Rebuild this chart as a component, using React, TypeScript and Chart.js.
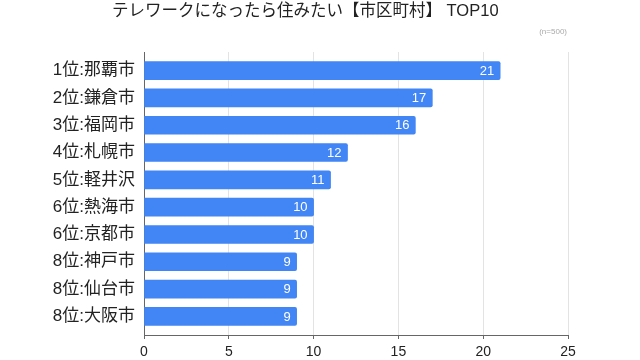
import React, { useEffect, useRef } from "react";
import { Chart, registerables } from "chart.js";

Chart.register(...registerables);

const titleText = "テレワークになったら住みたい【市区町村】 TOP10";
const noteText = "(n=500)";
const categories = [
  "1位:那覇市",
  "2位:鎌倉市",
  "3位:福岡市",
  "4位:札幌市",
  "5位:軽井沢",
  "6位:熱海市",
  "6位:京都市",
  "8位:神戸市",
  "8位:仙台市",
  "8位:大阪市",
];
const values = [21, 17, 16, 12, 11, 10, 10, 9, 9, 9];
const xTicks = [0, 5, 10, 15, 20, 25];

const FONT = '"Liberation Sans", Arial, "Noto Sans CJK JP", sans-serif';

const overlayPlugin = {
  id: "overlay",
  afterDatasetsDraw(chart: any) {
    const ctx = chart.ctx;
    const meta = chart.getDatasetMeta(0);
    ctx.save();
    ctx.fillStyle = "#ffffff";
    ctx.font = `13px ${FONT}`;
    ctx.textAlign = "right";
    ctx.textBaseline = "middle";
    meta.data.forEach((bar: any, i: number) => {
      ctx.fillText(String(values[i]), bar.x - 6, bar.y + 0.5);
    });
    ctx.restore();
  },
  afterDraw(chart: any) {
    const ctx = chart.ctx;
    ctx.save();
    ctx.fillStyle = "#222222";
    ctx.font = `16.5px ${FONT}`;
    ctx.textAlign = "left";
    ctx.textBaseline = "middle";
    ctx.fillText(titleText, 112, 11);
    ctx.fillStyle = "#aaaaaa";
    ctx.font = `8px ${FONT}`;
    ctx.textAlign = "right";
    ctx.fillText(noteText, 567, 32);
    ctx.restore();
  },
};

export default function App() {
  const ref = useRef<HTMLCanvasElement | null>(null);
  useEffect(() => {
    if (!ref.current) return;
    const chart = new Chart(ref.current, {
      type: "bar",
      data: {
        datasets: [
          {
            data: values.map((v, i) => ({ x: v, y: i })) as any,
            backgroundColor: "#4285f4",
            borderRadius: 2,
            barThickness: 18,
          },
        ],
      },
      options: {
        indexAxis: "y",
        responsive: false,
        animation: false,
        devicePixelRatio: 1,
        layout: { padding: { top: 52, right: 72, left: 0, bottom: 0 } },
        plugins: {
          legend: { display: false },
          tooltip: { enabled: false },
          title: { display: false },
        },
        scales: {
          x: {
            type: "linear",
            min: 0,
            max: 25,
            offset: false,
            afterBuildTicks: (s: any) => {
              s.ticks = xTicks.map((v) => ({ value: v }));
            },
            afterFit: (s: any) => {
              s.height = 25;
            },
            grid: {
              color: "#e3e3e3",
              tickColor: "#666666",
              tickLength: 4,
              offset: false,
            },
            border: { display: true, color: "#666666" },
            ticks: {
              color: "#222222",
              font: { size: 14, family: FONT },
              padding: 5,
              maxRotation: 0,
            },
          },
          y: {
            type: "linear",
            reverse: true,
            min: -0.68,
            max: 9.68,
            offset: false,
            afterBuildTicks: (s: any) => {
              s.ticks = categories.map((_, i) => ({ value: i }));
            },
            afterFit: (s: any) => {
              s.width = 144;
            },
            grid: { display: false, drawTicks: false, offset: false },
            border: { display: true, color: "#666666" },
            ticks: {
              color: "#222222",
              font: { size: 17, family: FONT },
              padding: 9,
              autoSkip: false,
              callback: (v: any) => categories[v] ?? "",
            },
          },
        },
      },
      plugins: [overlayPlugin],
    });
    return () => chart.destroy();
  }, []);
  return (
    <div style={{ position: "absolute", left: 0, top: 0, width: 640, height: 360, background: "#fff" }}>
      <canvas ref={ref} width={640} height={360} style={{ width: 640, height: 360, display: "block" }} />
    </div>
  );
}
